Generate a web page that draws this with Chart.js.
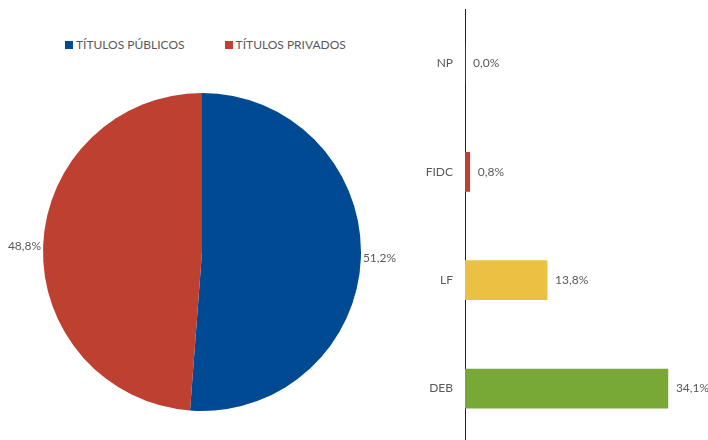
<!DOCTYPE html>
<html><head><meta charset="utf-8">
<script src="https://cdn.jsdelivr.net/npm/chart.js@4/dist/chart.umd.min.js"></script>
<style>
html,body{margin:0;padding:0;width:708px;height:440px;overflow:hidden;background:#fff;font-family:Lato,sans-serif;}
#legend{position:absolute;left:65px;top:37px;font-size:12px;color:#595959;white-space:nowrap;}
#legend span.item{display:inline-block;margin-right:40px;}
#legend i{display:inline-block;width:8px;height:8px;margin-right:3px;vertical-align:0px;}
#pie{position:absolute;left:0;top:80px;}
#bar{position:absolute;left:400px;top:-10px;}
</style></head>
<body>
<div id="legend"></div>
<canvas id="pie" width="404" height="344"></canvas>
<canvas id="bar" width="308" height="472"></canvas>
<script>
const pieLabels = ['TÍTULOS PÚBLICOS', 'TÍTULOS PRIVADOS'];
const pieValues = [51.2, 48.8];
const pieColors = ['#004A93', '#BE4031'];
const barLabels = ['NP', 'FIDC', 'LF', 'DEB'];
const barValues = [0.0, 0.8, 13.8, 34.1];
const barColors = ['#BE4031', '#BE4031', '#EBC144', '#78A937'];
const fmt = v => v.toFixed(1).replace('.', ',') + '%';
const txtColor = '#595959';

const leg = document.getElementById('legend');
pieLabels.forEach((l, i) => {
  const s = document.createElement('span'); s.className = 'item';
  const b = document.createElement('i'); b.style.background = pieColors[i];
  s.appendChild(b); s.appendChild(document.createTextNode(l)); leg.appendChild(s);
});

const pieLabelPlugin = {
  id: 'pieLbl',
  afterDatasetsDraw(chart) {
    const ctx = chart.ctx; const meta = chart.getDatasetMeta(0);
    ctx.save(); ctx.font = '12px Lato'; ctx.fillStyle = txtColor; ctx.textBaseline = 'middle';
    meta.data.forEach((arc, i) => {
      const mid = (arc.startAngle + arc.endAngle) / 2; const r = arc.outerRadius + 2;
      const x = arc.x + Math.cos(mid) * r, y = arc.y + Math.sin(mid) * r;
      ctx.textAlign = Math.cos(mid) >= 0 ? 'left' : 'right';
      ctx.fillText(fmt(pieValues[i]), x, y);
    });
    ctx.restore();
  }
};

new Chart(document.getElementById('pie'), {
  type: 'pie',
  data: { labels: pieLabels, datasets: [{ data: pieValues, backgroundColor: pieColors, borderWidth: 0 }] },
  options: {
    responsive: false, animation: false,
    layout: { padding: { left: 43, right: 43, top: 13, bottom: 13 } },
    plugins: { legend: { display: false }, tooltip: { enabled: false } }
  },
  plugins: [pieLabelPlugin]
});

const barLabelPlugin = {
  id: 'barLbl',
  afterDatasetsDraw(chart) {
    const ctx = chart.ctx; const meta = chart.getDatasetMeta(0);
    ctx.save(); ctx.font = '12px Lato'; ctx.fillStyle = txtColor; ctx.textBaseline = 'middle'; ctx.textAlign = 'left';
    meta.data.forEach((bar, i) => { ctx.fillText(fmt(barValues[i]), bar.x + 8, bar.y); });
    ctx.restore();
  }
};

new Chart(document.getElementById('bar'), {
  type: 'bar',
  data: { labels: barLabels, datasets: [{ data: barValues, backgroundColor: barColors, borderWidth: 0, barThickness: 39 }] },
  options: {
    indexAxis: 'y', responsive: false, animation: false,
    layout: { padding: { right: 5, top: 0, bottom: 0 } },
    scales: {
      x: { display: false, min: 0, max: 40 },
      y: {
        grid: { display: false, drawTicks: false },
        border: { display: true, color: '#222', width: 1 },
        ticks: { color: txtColor, font: { family: 'Lato', size: 12 }, padding: 12 },
        afterFit(scale) { scale.width = 65; }
      }
    },
    plugins: { legend: { display: false }, tooltip: { enabled: false } }
  },
  plugins: [barLabelPlugin]
});
</script>
</body></html>
